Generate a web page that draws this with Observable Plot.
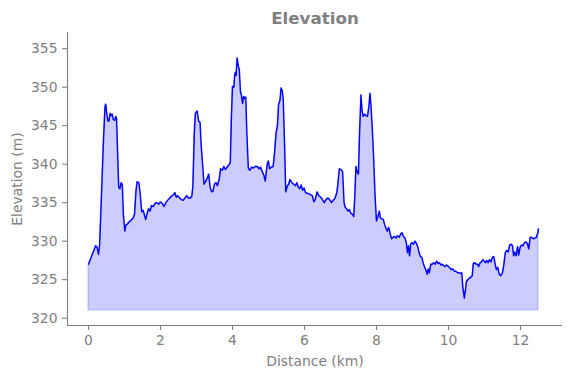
<!DOCTYPE html>
<html>
<head>
<meta charset="utf-8">
<script src="https://cdn.jsdelivr.net/npm/d3@7"></script>
<script src="https://cdn.jsdelivr.net/npm/@observablehq/plot@0.6"></script>
<style>
  html, body { margin: 0; padding: 0; background: white; }
</style>
</head>
<body>
<div id="chart"></div>
<script>
const distance = [
0.00,0.05,0.10,0.15,0.20,0.24,0.28,0.31,0.35,0.38,0.42,0.46,0.48,0.51,0.54,0.57,0.60,0.63,0.66,0.69,
0.73,0.76,0.78,0.81,0.84,0.87,0.91,0.94,0.97,1.01,1.04,1.08,1.13,1.18,1.24,1.28,1.32,1.35,1.40,1.44,
1.48,1.52,1.56,1.59,1.63,1.67,1.71,1.75,1.80,1.85,1.90,1.95,2.00,2.05,2.10,2.15,2.20,2.26,2.32,2.36,
2.40,2.44,2.48,2.53,2.58,2.63,2.68,2.73,2.78,2.83,2.87,2.90,2.94,2.97,3.02,3.06,3.10,3.13,3.17,3.21,
3.26,3.30,3.34,3.38,3.42,3.46,3.50,3.54,3.58,3.63,3.67,3.72,3.76,3.80,3.85,3.90,3.94,3.97,4.00,4.04,
4.06,4.08,4.10,4.13,4.16,4.19,4.22,4.25,4.28,4.31,4.34,4.37,4.40,4.44,4.48,4.53,4.58,4.63,4.69,4.74,
4.78,4.83,4.87,4.91,4.94,4.97,5.00,5.03,5.08,5.13,5.17,5.21,5.25,5.28,5.32,5.35,5.38,5.41,5.45,5.48,
5.52,5.56,5.60,5.65,5.70,5.75,5.79,5.83,5.87,5.91,5.95,5.99,6.03,6.07,6.12,6.17,6.22,6.26,6.30,6.35,
6.40,6.45,6.50,6.55,6.60,6.65,6.70,6.75,6.80,6.85,6.90,6.93,6.97,7.02,7.06,7.10,7.13,7.17,7.21,7.25,
7.29,7.33,7.37,7.40,7.43,7.47,7.50,7.53,7.57,7.60,7.63,7.67,7.71,7.75,7.79,7.82,7.85,7.88,7.92,7.96,
8.00,8.04,8.08,8.11,8.15,8.19,8.23,8.27,8.30,8.34,8.38,8.42,8.46,8.50,8.54,8.58,8.63,8.67,8.71,8.75,
8.79,8.83,8.86,8.89,8.92,8.95,8.99,9.03,9.07,9.11,9.15,9.18,9.22,9.26,9.30,9.34,9.38,9.41,9.44,9.47,
9.51,9.55,9.59,9.63,9.67,9.71,9.75,9.79,9.83,9.87,9.91,9.95,10.00,10.04,10.08,10.12,10.16,10.20,10.25,10.30,
10.34,10.37,10.40,10.44,10.47,10.50,10.54,10.58,10.62,10.66,10.69,10.73,10.77,10.81,10.84,10.88,10.92,10.96,10.99,11.03,
11.06,11.10,11.14,11.18,11.22,11.26,11.29,11.33,11.37,11.41,11.45,11.50,11.54,11.58,11.62,11.66,11.70,11.74,11.78,11.81,
11.84,11.88,11.92,11.95,11.99,12.03,12.07,12.11,12.15,12.19,12.23,12.27,12.31,12.36,12.40,12.44,12.48,12.50
];
const elevation = [
327.0,327.6,328.2,328.8,329.4,329.2,328.3,329.5,334.5,338.4,343.5,347.5,347.8,346.5,345.6,345.6,346.6,346.3,346.5,345.8,
345.7,346.2,346.0,341.5,337.0,336.8,337.6,337.3,333.5,331.3,332.1,332.2,332.5,332.7,333.0,333.5,336.5,337.7,337.6,336.0,
333.8,334.0,333.3,332.8,333.6,334.2,333.9,334.6,334.5,334.9,335.0,334.8,335.1,334.9,334.5,335.0,335.3,335.6,335.9,336.0,
336.3,335.7,335.9,335.6,335.4,335.3,335.6,335.9,335.6,335.6,335.8,337.1,344.0,346.6,346.9,345.6,345.4,342.5,340.0,337.4,
337.8,338.2,338.7,337.0,336.4,336.5,337.4,337.6,337.2,338.0,339.4,339.2,339.7,339.3,339.6,339.9,340.2,346.0,350.1,350.0,
351.5,351.9,351.5,353.8,352.8,352.3,349.5,348.9,347.9,348.8,348.5,348.7,344.0,339.5,339.2,339.6,339.5,339.7,339.7,339.4,
339.6,339.0,338.6,337.8,339.0,340.1,340.4,339.4,339.6,339.7,341.5,344.0,345.0,347.7,348.3,349.9,349.6,348.5,342.0,336.4,
337.1,337.4,338.0,337.6,337.4,337.2,337.6,337.0,336.8,337.3,336.6,336.9,336.3,336.2,336.2,336.0,335.9,335.1,335.4,336.4,
335.9,335.7,335.4,335.0,335.4,335.6,335.4,335.0,335.3,335.6,336.3,337.5,339.4,339.3,339.0,335.0,334.4,334.2,333.9,334.1,
333.6,333.5,333.2,336.0,339.7,338.9,338.7,344.0,349.0,347.0,346.2,346.5,346.3,346.2,347.5,349.2,347.5,345.0,341.0,336.0,
332.6,333.2,333.9,333.0,332.9,332.8,332.1,331.6,331.3,331.8,331.0,330.3,330.5,330.6,330.4,330.7,330.5,330.9,331.1,330.6,
330.4,329.8,328.5,329.4,328.1,329.6,329.8,329.6,330.0,329.7,329.2,328.6,328.0,327.9,327.1,326.6,326.2,325.7,326.4,325.9,
327.0,327.0,327.2,327.0,327.4,327.1,327.2,326.9,327.0,326.8,326.7,326.9,326.7,326.5,326.3,326.4,326.1,326.1,325.9,325.9,
325.8,325.9,324.0,322.6,323.6,324.8,325.0,325.2,325.3,325.5,327.1,327.2,327.0,327.0,326.7,327.2,327.3,327.6,327.4,327.2,
327.5,327.2,327.6,327.3,327.9,328.0,327.2,326.3,326.6,325.7,325.5,325.9,327.0,328.5,328.8,328.6,329.5,329.6,329.4,328.1,
328.6,328.1,329.3,328.2,329.2,329.5,329.4,329.8,329.9,329.7,329.0,330.5,330.5,330.3,330.4,330.5,331.0,331.6
];
const xTicks = [0, 2, 4, 6, 8, 10, 12];
const yTicks = [320, 325, 330, 335, 340, 345, 350, 355];
const baseline = 321;
const xDomain = [-0.5833, 13.1667];
const yDomain = [319.05, 357.1];
const titleText = "Elevation";
const xLabel = "Distance (km)";
const yLabel = "Elevation (m)";

const data = distance.map((d, i) => ({d, e: elevation[i]}));

const chart = Plot.plot({
  width: 571,
  height: 378,
  marginLeft: 67,
  marginRight: 9,
  marginTop: 32,
  marginBottom: 53,
  style: {fontFamily: "DejaVu Sans", fontSize: "13.9px", color: "gray", background: "white"},
  x: {domain: xDomain},
  y: {domain: yDomain},
  marks: [
    Plot.areaY(data, {x: "d", y1: baseline, y2: "e", fill: "blue", fillOpacity: 0.2, stroke: "blue", strokeOpacity: 0.2, strokeWidth: 1.2}),
    Plot.line(data, {x: "d", y: "e", stroke: "blue", strokeWidth: 1.4}),
    Plot.axisX({ticks: xTicks, tickSize: 5, tickPadding: 5, label: null, stroke: "gray", fill: "gray", strokeWidth: 1.1}),
    Plot.axisY({ticks: yTicks, tickSize: 5, tickPadding: 5, label: null, stroke: "gray", fill: "gray", strokeWidth: 1.1}),
    Plot.ruleX([xDomain[0]], {y1: yDomain[0], y2: yDomain[1], stroke: "gray", strokeWidth: 1.1}),
    Plot.ruleY([yDomain[0]], {x1: xDomain[0], x2: xDomain[1], stroke: "gray", strokeWidth: 1.1}),
    Plot.text([titleText], {text: d => d, frameAnchor: "top", dy: -14, lineAnchor: "middle", textAnchor: "middle", fontWeight: "bold", fontSize: 16.7, fill: "gray"}),
    Plot.text([xLabel], {text: d => d, frameAnchor: "bottom", dy: 36, lineAnchor: "middle", textAnchor: "middle", fill: "gray"}),
    Plot.text([yLabel], {text: d => d, frameAnchor: "left", dx: -50, rotate: -90, lineAnchor: "middle", textAnchor: "middle", fill: "gray"})
  ]
});
document.getElementById("chart").append(chart);
</script>
</body>
</html>
